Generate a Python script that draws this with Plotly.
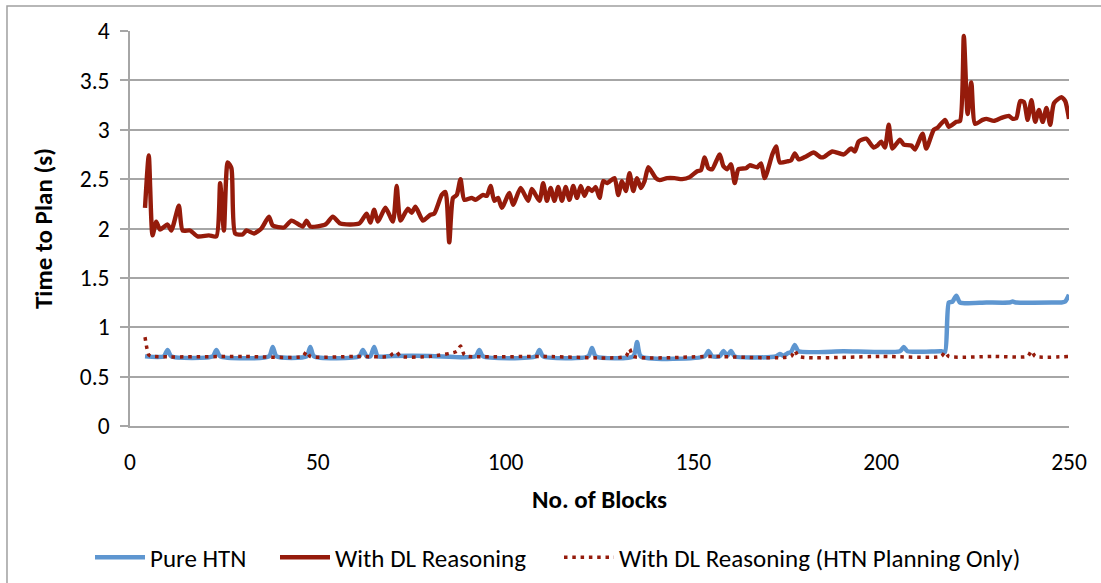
import plotly.graph_objects as go

# Planning time per block count
dl_blocks = [4, 5, 6, 7, 8, 10, 11, 13, 14, 16, 18, 21, 23, 24, 25, 26, 27, 28, 30, 31, 33, 35, 37, 38, 41, 43, 46, 47, 48,
             52, 54, 56, 61, 63, 64, 65, 66, 68, 70, 71, 72, 74, 75, 76, 78, 80, 81, 83, 84, 85, 86, 87, 88, 89, 91, 92,
             94, 95, 96, 97, 98, 99, 101, 102, 104, 106, 107, 109, 110, 111, 112, 113, 114, 115, 116, 117, 118, 119, 120,
             121, 122, 123, 124, 125, 126, 127, 129, 130, 131, 132, 133, 134, 135, 136, 137, 138, 140, 141, 143, 145, 147,
             149, 151, 152, 153, 154, 155, 157, 158, 159, 160, 161, 162, 164, 165, 167, 168, 169, 171, 172, 173, 175, 176,
             177, 178, 180, 182, 184, 185, 187, 190, 192, 193, 194, 196, 198, 199, 200, 201, 202, 203, 205, 206, 208, 209,
             211, 212, 214, 215, 217, 218, 220, 221, 222, 223, 224, 225, 227, 228, 230, 232, 234, 235, 236, 237, 238, 239,
             240, 241, 242, 243, 244, 245, 246, 248, 249, 250]
dl_time = [2.21, 2.74, 1.93, 2.07, 1.99, 2.04, 1.98, 2.23, 1.98, 1.98, 1.92, 1.93, 1.92, 2.46, 1.98, 2.67, 2.61, 1.95, 1.94,
           1.98, 1.95, 2.0, 2.12, 2.03, 2.01, 2.08, 2.02, 2.08, 2.02,
           2.04, 2.12, 2.05, 2.05, 2.15, 2.06, 2.19, 2.07, 2.21, 2.07, 2.43, 2.08, 2.2, 2.16, 2.22, 2.08, 2.14, 2.15, 2.34,
           2.37, 1.86, 2.31, 2.34, 2.5, 2.29, 2.31, 2.29,
           2.34, 2.33, 2.43, 2.28, 2.31, 2.21, 2.36, 2.24, 2.41, 2.28, 2.4, 2.28, 2.46, 2.28, 2.41, 2.28, 2.42, 2.28, 2.42,
           2.29, 2.43, 2.31, 2.43,
           2.33, 2.41, 2.38, 2.42, 2.31, 2.48, 2.46, 2.51, 2.34, 2.48, 2.38, 2.56, 2.38, 2.51, 2.41, 2.48, 2.62, 2.51, 2.49,
           2.51, 2.51, 2.5,
           2.52, 2.58, 2.59, 2.72, 2.61, 2.6, 2.75, 2.63, 2.6, 2.65, 2.46, 2.6, 2.61, 2.64, 2.62, 2.66, 2.51, 2.75, 2.83,
           2.67, 2.68, 2.69,
           2.76, 2.7, 2.73, 2.77, 2.72, 2.73, 2.78, 2.75, 2.81, 2.78, 2.88, 2.91, 2.82, 2.84, 2.88, 2.82, 3.05, 2.81, 2.9,
           2.85, 2.84, 2.8,
           2.96, 2.81, 3.0, 3.02, 3.1, 3.03, 3.08, 3.09, 3.95, 3.16, 3.48, 3.06, 3.1, 3.11, 3.09, 3.12, 3.14, 3.11, 3.12,
           3.29, 3.28, 3.1,
           3.3, 3.08, 3.2, 3.08, 3.22, 3.05, 3.27, 3.33, 3.29, 3.11]

htn_blocks = [4, 9, 10, 11, 22, 23, 24, 37, 38, 39, 47, 48, 49, 61, 62, 63, 64, 65, 66, 70, 80, 92, 93, 94, 108, 109, 110,
              122, 123, 124, 134, 135, 136, 153, 154, 155, 157, 158, 159, 160, 161, 172, 173, 174, 175, 176, 177, 178,
              190, 205, 206, 207, 216, 217, 218, 219, 220, 221, 228, 234, 235, 236, 247, 248, 249, 250]
htn_time = [0.705, 0.705, 0.77, 0.705, 0.705, 0.77, 0.705, 0.705, 0.8, 0.705, 0.705, 0.8, 0.705, 0.705, 0.77, 0.705, 0.705,
            0.8, 0.705, 0.71, 0.71, 0.705, 0.77, 0.705, 0.705, 0.77, 0.705,
            0.705, 0.79, 0.705, 0.705, 0.85, 0.705, 0.705, 0.76, 0.705, 0.705, 0.76, 0.71, 0.76, 0.705, 0.705, 0.73,
            0.71, 0.735, 0.75, 0.82, 0.757,
            0.757, 0.757, 0.8, 0.757, 0.757, 0.75, 1.25, 1.26, 1.32, 1.25, 1.25, 1.25, 1.26, 1.25, 1.25, 1.25, 1.26, 1.33]

plan_blocks = [4, 5, 6, 30, 46, 47, 48, 60, 69, 70, 71, 72, 80, 87, 88, 89, 90, 110, 132, 133, 134, 155, 176, 177, 178,
               200, 216, 217, 218, 230, 239, 240, 241, 250]
plan_time = [0.9, 0.72, 0.705, 0.705, 0.705, 0.755, 0.705, 0.705, 0.705, 0.735, 0.75, 0.705, 0.705, 0.755, 0.81, 0.72,
             0.705, 0.705, 0.705, 0.78, 0.705, 0.705, 0.705, 0.765, 0.705,
             0.705, 0.705, 0.75, 0.705, 0.705, 0.705, 0.76, 0.705, 0.705]

FONT = "Calibri, Carlito, Lato, sans-serif"
GRID = "#A6A6A6"
PLOT_L, PLOT_W = 130, 939


def legend_box(px_left):
    # one legend box per series, placed by its left edge in pixels
    return dict(orientation="h", x=(px_left - PLOT_L) / PLOT_W, xanchor="left", y=-0.333, yanchor="middle",
                font=dict(size=25), itemwidth=50, bgcolor="rgba(0,0,0,0)")


fig = go.Figure()
fig.add_trace(go.Scatter(x=htn_blocks, y=htn_time, mode="lines", name="Pure HTN", legend="legend",
                         line=dict(color="#5E96D0", width=4.5, shape="spline", smoothing=0.6)))
fig.add_trace(go.Scatter(x=dl_blocks, y=dl_time, mode="lines", name="With DL Reasoning", legend="legend2",
                         line=dict(color="#951B0B", width=4.4, shape="spline", smoothing=0.6)))
fig.add_trace(go.Scatter(x=plan_blocks, y=plan_time, mode="lines", name="With DL Reasoning (HTN Planning Only)",
                         legend="legend3",
                         line=dict(color="#951B0B", width=3.5, shape="spline", smoothing=0.6, dash="3.5px,4.8px")))

fig.update_layout(
    width=1101, height=583,
    margin=dict(l=130, r=32, t=31, b=157, autoexpand=False),
    paper_bgcolor="white", plot_bgcolor="white",
    font=dict(family=FONT, size=24, color="black"),
    showlegend=True,
    legend=legend_box(90),
    legend2=legend_box(275),
    legend3=legend_box(559),
    xaxis=dict(range=[0, 250], dtick=50, tick0=0, showgrid=False, zeroline=False,
               showline=True, linecolor=GRID, linewidth=1.5,
               ticks="", ticklabelstandoff=14, tickfont=dict(size=23.5),
               title=dict(text="<b>No. of Blocks</b>", standoff=16, font=dict(size=25))),
    yaxis=dict(range=[0, 4], dtick=0.5, tick0=0, showgrid=True, gridcolor=GRID, gridwidth=1.5,
               zeroline=False, showline=True, linecolor=GRID, linewidth=1.5,
               ticks="outside", ticklen=8, tickcolor=GRID, tickwidth=1.5, ticklabelstandoff=6,
               tickfont=dict(size=23.5),
               title=dict(text="<b>Time to Plan (s)</b>", standoff=20, font=dict(size=25))),
    shapes=[dict(type="rect", xref="paper", yref="paper", x0=-0.131, x1=1.2, y0=-0.6, y1=1.063,
                 line=dict(color="#A0A0A0", width=1.5), layer="below")],
)

fig.write_html("out.html")
